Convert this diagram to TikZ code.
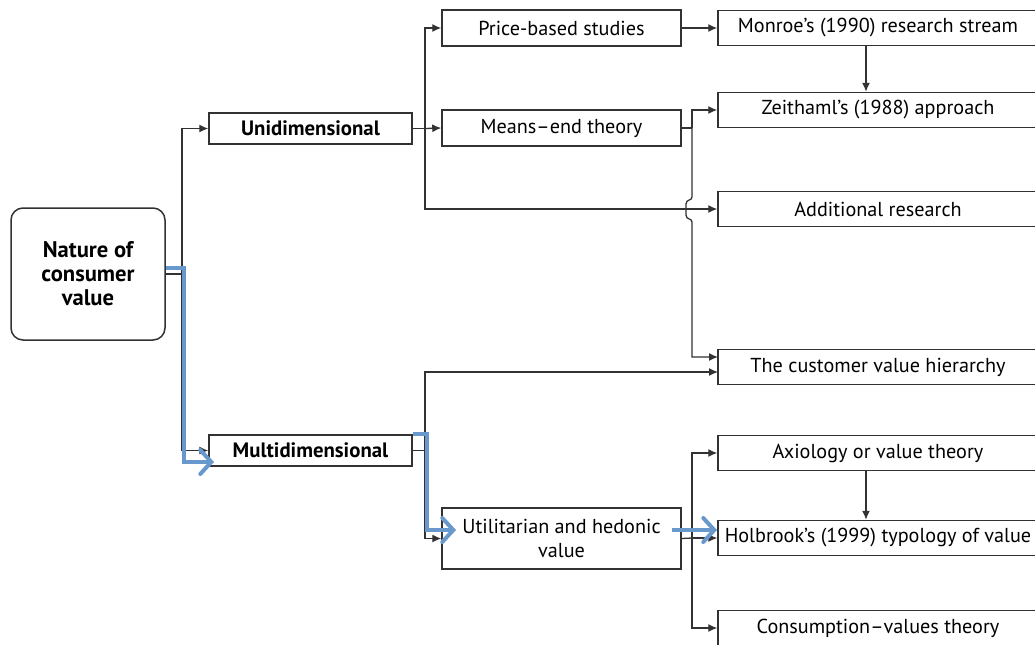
\documentclass[tikz,border=0pt]{standalone}
\usepackage{fontspec}
\setmainfont{PT Sans}
\usetikzlibrary{arrows.meta}
\definecolor{hlblue}{RGB}{104,152,204}
\definecolor{linegray}{RGB}{50,50,50}
\begin{document}
\begin{tikzpicture}[x=0.5pt,y=-0.5pt,
  root/.style={draw=linegray,line width=0.75pt,rounded corners=6pt,minimum width=77pt,minimum height=66pt,align=center,inner sep=0pt,font=\fontsize{11.3}{12}\selectfont\bfseries},
  lvl/.style={draw=linegray,line width=0.75pt,minimum width=101.5pt,minimum height=15.5pt,inner sep=0pt,font=\fontsize{10.4}{12}\selectfont\bfseries},
  mid/.style={draw=linegray,line width=0.75pt,minimum width=119.5pt,minimum height=18pt,inner sep=0pt,align=center,font=\fontsize{10.1}{12}\selectfont},
  leaf/.style={draw=linegray,line width=0.75pt,minimum width=160pt,minimum height=17.5pt,inner sep=0pt,font=\fontsize{10.1}{12}\selectfont},
  arr/.style={draw=linegray,line width=0.65pt,-{Latex[length=4.5pt,width=4pt]}},
  ln/.style={draw=linegray,line width=0.65pt},
  hl/.style={draw=hlblue,line width=2pt,-{Straight Barb[length=5.5pt,width=12pt,line cap=round]}}]
\fill[white] (0,0) rectangle (1035,644);
\useasboundingbox (0,0) rectangle (1035,644);
\node[root] (nature) at (88,274) {Nature of\\consumer\\value};
\node[lvl] (uni) at (310.5,128.5) {Unidimensional};
\node[lvl] (multi) at (310.5,450.5) {Multidimensional};
\node[mid] (price) at (561.5,28) {Price-based studies};
\node[mid] (means) at (561.5,128) {Means–end theory};
\node[mid,minimum height=30.5pt] (util) at (561.5,538.5) {Utilitarian and hedonic\\value};
\node[leaf] (monroe) at (878,28) {Monroe’s (1990) research stream};
\node[leaf] (zeit) at (878,110) {Zeithaml’s (1988) approach};
\node[leaf] (addl) at (878,209) {Additional research};
\node[leaf] (hier) at (878,367) {The customer value hierarchy};
\node[leaf] (axio) at (878,453) {Axiology or value theory};
\node[leaf] (holb) at (878,538) {Holbrook’s (1999) typology of value};
\node[leaf] (cons) at (878,628) {Consumption–values theory};
\coordinate (j1) at (182,274);
\coordinate (j2) at (425,128.5);
\coordinate (j3) at (692,128);
\coordinate (j4) at (425,450.5);
\coordinate (j5) at (692,538);
\coordinate (h1) at (718,357);
\coordinate (h2) at (718,372);
\draw[ln] (nature.east) -- (j1);
\draw[arr] (j1) |- (uni.west);
\draw[arr] (j1) |- (multi.west);
\draw[ln] (uni.east) -- (j2);
\draw[arr] (j2) |- (price.west);
\draw[arr] (j2) -- (means.west);
\draw[arr] (j2) |- (addl.west);
\draw[arr] (price.east) -- (monroe.west);
\draw[arr] ([xshift=-6pt]monroe.south) -- ([xshift=-6pt]zeit.north);
\draw[ln] (means.east) -- (j3);
\draw[arr] (j3) |- (zeit.west);
\draw[arr] (j3) -- (692,197) .. controls (692,201) and (686,199) .. (686,204) -- (686,215) .. controls (686,220) and (692,218) .. (692,222) |- (h1);
\draw[ln] (multi.east) -- (j4);
\draw[arr] (j4) |- (h2);
\draw[arr] (j4) |- (util.west);
\draw[ln] (util.east) -- (j5);
\draw[arr] (j5) -- (holb.west);
\draw[arr] (j5) |- (axio.west);
\draw[arr] (j5) |- (cons.west);
\draw[arr] ([xshift=-6pt]axio.south) -- ([xshift=-6pt]holb.north);
\coordinate (b1) at (184,268);
\coordinate (b2) at (214,462);
\coordinate (b3) at (427,434);
\coordinate (b4) at (456,530);
\coordinate (b5) at (672,530);
\coordinate (b6) at (717,530);
\draw[hl] (nature.east |- b1) -- (b1) |- (b2);
\draw[hl] (multi.east |- b3) -- (b3) |- (b4);
\draw[hl] (b5) -- (b6);
\end{tikzpicture}
\end{document}
